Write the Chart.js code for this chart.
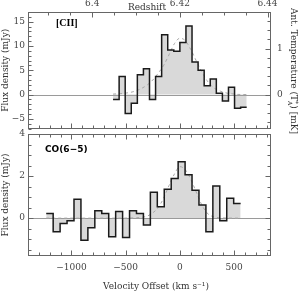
<!DOCTYPE html>
<html>
<head>
<meta charset="utf-8">
<script src="https://cdn.jsdelivr.net/npm/chart.js@4.4.0/dist/chart.umd.min.js"></script>
<style>
  html, body { margin: 0; padding: 0; background: #fff; }
  #wrap { position: relative; width: 300px; height: 293px; overflow: hidden; }
  #topBox { position: absolute; left: 0; top: 0; }
  #botBox { position: absolute; left: 0; top: 120px; }
</style>
</head>
<body>
<div id="wrap">
  <div id="topBox"><canvas id="ciiChart" width="300" height="140"></canvas></div>
  <div id="botBox"><canvas id="coChart" width="300" height="173"></canvas></div>
</div>
<script>
// systemic redshift and unit conversion for the right axis
const C_KMS = 299792.458;
const zSys = 6.42;
const mJyPerMK = 9.47;

// [CII] spectrum: channel edges (km/s) and flux density (mJy)
const ciiEdges = [-616, -560, -504, -448, -392, -336, -280, -224, -168, -112, -56, 0,
                  56, 112, 168, 224, 280, 336, 392, 448, 504, 560, 616];
const ciiFlux = [-1.0, 3.7, -3.9, -1.8, 4.1, 5.3, -1.0, 3.7, 12.3, 9.2, 8.9,
                 10.7, 14.1, 6.7, 5.0, 1.8, 3.2, 0.3, -1.3, 1.5, -2.8, -2.6];
// dashed fit
const ciiFitVel = [-616, -500, -400, -300, -250, -200, -150, -100, -50, 0, 50, 100, 150, 200, 250, 300, 400, 500, 616];
const ciiFitFlux = [0.1, 0.3, 0.8, 2.0, 3.0, 4.4, 6.0, 8.2, 10.5, 11.6, 11.1, 9.3, 7.0, 4.8, 2.9, 1.6, 0.5, 0.1, 0.0];

// CO(6-5) spectrum
const coEdges = [-1232, -1168, -1104, -1040, -976, -912, -848, -784, -720, -656, -592, -528, -464, -400,
                 -336, -272, -208, -144, -80, -16, 48, 112, 176, 240, 304, 368, 432, 496, 560];
const coFlux = [0.22, -0.65, -0.25, -0.12, 0.9, -1.05, -0.46, 0.35, 0.22, -0.89, 0.32, -0.92, 0.35, 0.22,
                -0.33, 1.23, 0.54, 1.37, 1.89, 2.68, 2.06, 1.32, 0.62, -0.65, 1.53, -0.13, 0.94, 0.7];
const coFitVel = [-1232, -600, -400, -300, -250, -200, -150, -100, -50, 0, 50, 100, 150, 200, 250, 300, 400, 560];
const coFitFlux = [0, 0, 0.02, 0.1, 0.25, 0.5, 0.95, 1.55, 2.1, 2.45, 2.3, 1.85, 1.25, 0.65, 0.25, 0.08, 0.01, 0];

// labelled ticks
const velocityLabels = [-1000, -500, 0, 500];
const redshiftLabels = [6.40, 6.42, 6.44];
const ciiFluxLabels = [-5, 0, 5, 10, 15];
const tempLabels = [0, 1];
const coFluxLabels = [0, 2, 4];

const VMIN = -1400, VMAX = 840;
const serif = "'DejaVu Serif', serif";
const tickFont = { family: serif, size: 9 };
const titleFont = { family: serif, size: 9 };

function steps(edges, vals) {
  const pts = vals.map((v, i) => ({ x: edges[i], y: v }));
  pts.push({ x: edges[edges.length - 1], y: vals[vals.length - 1] });
  return pts;
}
function pairs(xs, ys) { return xs.map((x, i) => ({ x: x, y: ys[i] })); }
function grid(min, max, step) {
  const out = [];
  for (let i = Math.ceil(min / step - 1e-9); i * step <= max + 1e-9; i++) out.push(+(i * step).toFixed(4));
  return out;
}
const has = (list, v) => list.some(l => Math.abs(l - v) < 1e-6);
const fmt = v => (v < 0 ? '\u2212' + Math.abs(v) : String(v));
const velOf = z => C_KMS * (z - zSys) / (1 + zSys);

// frame, inward ticks, zero line and free texts
const framePlugin = {
  id: 'frame',
  beforeDatasetsDraw(chart) {
    const { ctx, chartArea: a } = chart;
    const y0 = Math.round(chart.scales.y.getPixelForValue(0)) + 0.5;
    ctx.save();
    ctx.strokeStyle = '#9a9a9a';
    ctx.lineWidth = 1.2;
    ctx.beginPath(); ctx.moveTo(a.left, y0); ctx.lineTo(a.right, y0); ctx.stroke();
    ctx.restore();
  },
  afterDraw(chart, args, opts) {
    const { ctx, chartArea: a } = chart;
    const L = Math.round(a.left) + 0.5, R = Math.round(a.right) - 0.5;
    const T = Math.round(a.top) + 0.5, B = Math.round(a.bottom) - 0.5;
    ctx.save();
    ctx.strokeStyle = '#666';
    ctx.lineWidth = 1;
    ctx.strokeRect(L, T, R - L, B - T);
    (opts.axes || []).forEach(ax => {
      const s = chart.scales[ax.id];
      s.ticks.forEach(t => {
        const p = Math.round(s.getPixelForValue(t.value)) + 0.5;
        const len = has(ax.majors, t.value) ? 5 : 3;
        ax.sides.forEach(side => {
          ctx.beginPath();
          if (side === 'left') { ctx.moveTo(L, p); ctx.lineTo(L + len, p); }
          if (side === 'right') { ctx.moveTo(R, p); ctx.lineTo(R - len, p); }
          if (side === 'top') { ctx.moveTo(p, T); ctx.lineTo(p, T + len); }
          if (side === 'bottom') { ctx.moveTo(p, B); ctx.lineTo(p, B - len); }
          ctx.stroke();
        });
      });
    });
    ctx.textBaseline = 'middle';
    (opts.texts || []).forEach(tx => {
      ctx.fillStyle = tx.color || '#000';
      ctx.font = tx.font;
      ctx.textAlign = tx.align || 'left';
      ctx.fillText(tx.text, tx.x, tx.y);
    });
    if (opts.tempTitle) {
      // Ant. Temperature (T*A) [mK], rotated, read top to bottom
      const f = "9px " + serif, fs = "6px " + serif;
      const parts = ['Ant. Temperature (T', ') [mK]'];
      ctx.font = f;
      const w0 = ctx.measureText(parts[0]).width;
      const w1 = ctx.measureText(parts[1]).width;
      ctx.font = fs;
      const ws = Math.max(ctx.measureText('*').width, ctx.measureText('A').width);
      const total = w0 + ws + w1;
      ctx.translate(opts.tempTitle.x, opts.tempTitle.y);
      ctx.rotate(Math.PI / 2);
      ctx.fillStyle = '#333';
      ctx.textAlign = 'left';
      let x = -total / 2;
      ctx.font = f; ctx.fillText(parts[0], x, 0); x += w0;
      ctx.font = fs; ctx.fillText('*', x, -3); ctx.fillText('A', x, 3); x += ws;
      ctx.font = f; ctx.fillText(parts[1], x, 0);
    }
    ctx.restore();
  }
};

function histSet(edges, vals) {
  return { data: steps(edges, vals), stepped: true, borderColor: '#1a1a1a', borderWidth: 1.5,
           backgroundColor: '#d9d9d9', fill: 'origin', pointRadius: 0 };
}
function fitSet(xs, ys) {
  return { data: pairs(xs, ys), borderColor: '#a8a8a8', borderWidth: 1, borderDash: [3, 3],
           fill: false, pointRadius: 0, tension: 0.4, cubicInterpolationMode: 'monotone' };
}
function yAxis(min, max, step, labels, width, title, pad) {
  return {
    type: 'linear', position: 'left', min: min, max: max,
    grid: { display: false, drawTicks: false }, border: { display: false },
    afterBuildTicks: s => { s.ticks = grid(min, max, step).map(v => ({ value: v })); },
    afterFit: s => { s.width = width; },
    ticks: { autoSkip: false, font: tickFont, color: '#444', padding: pad,
             callback: v => (has(labels, v) ? fmt(v) : '') },
    title: { display: !!title, text: title, font: titleFont, color: '#333', padding: { top: 0, bottom: 0 } }
  };
}

// ---------- [CII] panel ----------
const ciiYMin = -7, ciiYMax = 17;
const redshiftTicks = grid(6.385, 6.45, 0.005).filter(z => velOf(z) >= VMIN && velOf(z) <= VMAX);

new Chart(document.getElementById('ciiChart'), {
  type: 'line',
  data: { datasets: [histSet(ciiEdges, ciiFlux), fitSet(ciiFitVel, ciiFitFlux)] },
  options: {
    responsive: false, animation: false, events: [],
    layout: { autoPadding: false, padding: { top: 0, bottom: 6, left: 0, right: 0 } },
    plugins: {
      legend: { display: false }, tooltip: { enabled: false },
      filler: { drawTime: 'beforeDatasetsDraw' },
      frame: {
        axes: [
          { id: 'x', sides: ['bottom'], majors: velocityLabels },
          { id: 'xz', sides: ['top'], majors: redshiftLabels.map(velOf) },
          { id: 'y', sides: ['left'], majors: ciiFluxLabels },
          { id: 'yT', sides: ['right'], majors: tempLabels }
        ],
        texts: [
          { text: '[CII]', x: 56, y: 23, font: "bold 10px 'Liberation Serif', serif" },
          { text: 'Redshift', x: 147, y: 8, font: "9px " + serif, align: 'center', color: '#333' }
        ],
        tempTitle: { x: 293, y: 71 }
      }
    },
    scales: {
      x: {
        type: 'linear', position: 'bottom', min: VMIN, max: VMAX,
        grid: { display: false, drawTicks: false }, border: { display: false },
        ticks: { display: false, autoSkip: false },
        afterBuildTicks: s => { s.ticks = grid(VMIN, VMAX, 100).map(v => ({ value: v })); },
        afterFit: s => { s.height = 0; }
      },
      xz: {
        type: 'linear', position: 'top', min: VMIN, max: VMAX,
        grid: { display: false, drawTicks: false }, border: { display: false },
        afterBuildTicks: s => { s.ticks = redshiftTicks.map(z => ({ value: velOf(z), z: z })); },
        afterFit: s => { s.height = 12; },
        ticks: {
          autoSkip: false, maxRotation: 0, font: tickFont, color: '#444', padding: 3,
          callback: (v, i, ticks) => (has(redshiftLabels, ticks[i].z) ? String(+ticks[i].z.toFixed(3)) : '')
        }
      },
      y: yAxis(ciiYMin, ciiYMax, 1, ciiFluxLabels, 28, 'Flux density (mJy)', 3),
      yT: {
        type: 'linear', position: 'right', min: ciiYMin / mJyPerMK, max: ciiYMax / mJyPerMK,
        grid: { display: false, drawTicks: false }, border: { display: false },
        afterBuildTicks: s => { s.ticks = grid(ciiYMin / mJyPerMK, ciiYMax / mJyPerMK, 0.2).map(v => ({ value: v })); },
        afterFit: s => { s.width = 29; },
        ticks: { autoSkip: false, font: tickFont, color: '#444', padding: 6,
                 callback: v => (has(tempLabels, v) ? fmt(v) : '') }
      }
    }
  },
  plugins: [framePlugin]
});

// ---------- CO(6-5) panel ----------
const coYMin = -1.8, coYMax = 4;

new Chart(document.getElementById('coChart'), {
  type: 'line',
  data: { datasets: [histSet(coEdges, coFlux), fitSet(coFitVel, coFitFlux)] },
  options: {
    responsive: false, animation: false, events: [],
    layout: { autoPadding: false, padding: { top: 14, bottom: 0, left: 0, right: 0 } },
    plugins: {
      legend: { display: false }, tooltip: { enabled: false },
      filler: { drawTime: 'beforeDatasetsDraw' },
      frame: {
        axes: [
          { id: 'x', sides: ['bottom', 'top'], majors: velocityLabels },
          { id: 'y', sides: ['left'], majors: coFluxLabels },
          { id: 'yR', sides: ['right'], majors: coFluxLabels }
        ],
        texts: [
          { text: 'CO(6\u22125)', x: 45, y: 30, font: "bold 9px 'DejaVu Sans', sans-serif" },
          { text: 'Velocity Offset (km s\u207B\u00B9)', x: 156, y: 167, font: "9px " + serif, align: 'center', color: '#333' }
        ]
      }
    },
    scales: {
      x: {
        type: 'linear', position: 'bottom', min: VMIN, max: VMAX,
        grid: { display: false, drawTicks: false }, border: { display: false },
        afterBuildTicks: s => { s.ticks = grid(VMIN, VMAX, 100).map(v => ({ value: v })); },
        afterFit: s => { s.height = 37; },
        ticks: { autoSkip: false, maxRotation: 0, font: tickFont, color: '#444', padding: 6,
                 callback: v => (has(velocityLabels, v) ? fmt(v) : '') }
      },
      y: yAxis(coYMin, coYMax, 0.5, coFluxLabels, 28, 'Flux density (mJy)', 3),
      yR: {
        type: 'linear', position: 'right', min: coYMin, max: coYMax,
        grid: { display: false, drawTicks: false }, border: { display: false },
        afterBuildTicks: s => { s.ticks = grid(coYMin, coYMax, 0.5).map(v => ({ value: v })); },
        afterFit: s => { s.width = 29; },
        ticks: { display: false, autoSkip: false }
      }
    }
  },
  plugins: [framePlugin]
});
</script>
</body>
</html>
